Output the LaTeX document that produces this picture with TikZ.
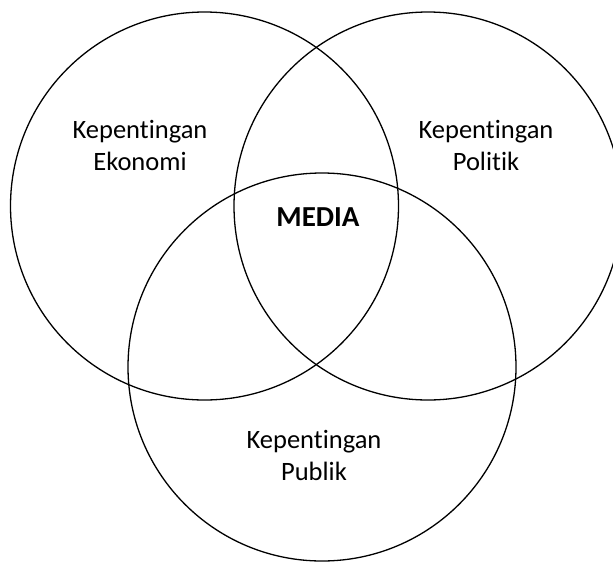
\documentclass[tikz,border=0pt]{standalone}
\usepackage{fontspec}
\setmainfont{Carlito}[Ligatures=NoCommon]

\begin{document}
\begin{tikzpicture}[x=1pt, y=-1pt]
            \tikzstyle{every node} = [align=center, font=\fontsize{26.5}{32}\selectfont]
            \tikzstyle{ring} = [line width=1.3pt]
            \clip (0, 0) rectangle (613, 563);
            \useasboundingbox (0, 0) rectangle (613, 563);
            \draw[ring] (204.5, 206) circle[radius=194];
            \draw[ring] (428, 206) circle[radius=194];
            \draw[ring] (322, 367) circle[radius=194];
            \node (ekonomi) at (140, 145) {Kepentingan\\ Ekonomi};
            \node (politik) at (486, 145) {Kepentingan\\ Politik};
            \node[font=\fontsize{29}{34}\selectfont\bfseries] (media) at (318, 217) {MEDIA};
            \node (publik) at (314, 455) {Kepentingan\\ Publik};
        \end{tikzpicture}
\end{document}
